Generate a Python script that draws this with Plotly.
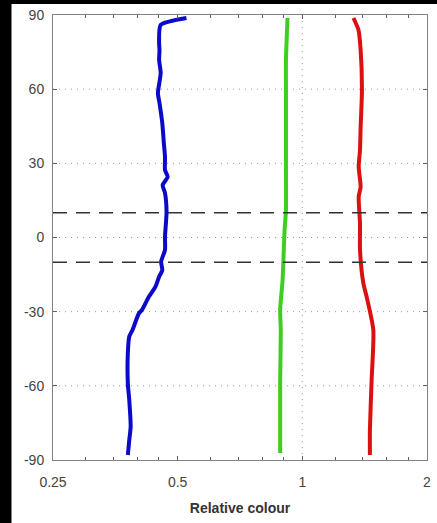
import plotly.graph_objects as go

# Latitude (deg) and relative colour values
blue_lat = [88.8, 86, 78.7, 75.8, 71.8, 66.5, 58.4, 54.4, 46.3, 38.2, 32.6, 27.3, 24.5, 21.2, 18, 10.4, 0.3, -5, -9.8, -13.2, -15.9, -19.9, -24, -29.3, -30.7, -37.4, -40.1, -46.9, -59, -65.7, -76.5, -82, -88]
blue_val = [0.525, 0.455, 0.451, 0.452, 0.451, 0.455, 0.448, 0.452, 0.459, 0.463, 0.466, 0.466, 0.473, 0.460, 0.466, 0.470, 0.466, 0.466, 0.456, 0.459, 0.451, 0.442, 0.426, 0.410, 0.403, 0.389, 0.382, 0.379, 0.379, 0.382, 0.385, 0.382, 0.379]

green_lat = [88.8, 71.8, 59.7, 30.1, 11.1, 3, -17.2, -29.3, -37.4, -58.9, -87.2]
green_val = [0.921, 0.913, 0.913, 0.913, 0.913, 0.906, 0.896, 0.884, 0.887, 0.884, 0.884]

red_lat = [88.8, 84, 75.8, 59.7, 44.8, 35.4, 28.6, 20.5, 16.5, 5.7, -5, -18.5, -24, -37.4, -57.7, -77.9, -88]
red_val = [1.329, 1.366, 1.383, 1.393, 1.383, 1.378, 1.368, 1.383, 1.368, 1.378, 1.378, 1.404, 1.430, 1.484, 1.470, 1.456, 1.456]

x_ticks = [0.25, 0.5, 1, 2]
x_tick_labels = ["0.25", "0.5", "1", "2"]
x_minor = [0.3, 0.35, 0.4, 0.45, 0.6, 0.7, 0.8, 0.9, 1.2, 1.4, 1.6, 1.8]
y_ticks = [-90, -60, -30, 0, 30, 60, 90]
y_tick_labels = ["-90", "-60", "-30", "0", "30", "60", "90"]
y_grid = [-60, -30, 0, 30, 60]
dashed_lat = [10, -10]
x_label = "Relative colour"

fig = go.Figure()
for lat, val, col in [(blue_lat, blue_val, "#0a0ac8"),
                      (green_lat, green_val, "#3fce1f"),
                      (red_lat, red_val, "#dc1010")]:
    fig.add_trace(go.Scatter(x=val, y=lat, mode="lines",
                             line=dict(color=col, width=4, shape="spline", smoothing=0.6),
                             showlegend=False))

shapes = []
for g in y_grid:
    shapes.append(dict(type="line", xref="paper", yref="y", x0=0, x1=1, y0=g, y1=g,
                       line=dict(color="#999999", width=1, dash="1px,5px"), layer="below"))
shapes.append(dict(type="line", xref="x", yref="paper", x0=1, x1=1, y0=0, y1=1,
                   line=dict(color="#999999", width=1, dash="1px,5px"), layer="below"))
for d in dashed_lat:
    shapes.append(dict(type="line", xref="paper", yref="y", x0=0, x1=1, y0=d, y1=d,
                       line=dict(color="#333333", width=1.5, dash="14px,9px"), layer="above"))
# black strips at left and top edges of the picture
shapes.append(dict(type="rect", xref="paper", yref="paper", x0=-0.145, x1=-0.111, y0=-0.2, y1=1.1,
                   fillcolor="black", line=dict(width=0)))
shapes.append(dict(type="rect", xref="paper", yref="paper", x0=-0.145, x1=1.05, y0=1.0247, y1=1.1,
                   fillcolor="black", line=dict(width=0)))

fig.update_layout(
    width=437, height=523,
    margin=dict(l=53, r=6, t=15, b=63),
    paper_bgcolor="white", plot_bgcolor="white",
    font=dict(family="Liberation Sans, Arial, sans-serif", size=14, color="#333333"),
    shapes=shapes,
    xaxis=dict(type="log", range=[-0.60206, 0.30103], tickvals=x_ticks, ticktext=x_tick_labels,
               showgrid=False, zeroline=False, showline=True, linecolor="#808080", linewidth=1,
               mirror="allticks", ticks="inside", ticklen=4, tickcolor="#606060",
               ticklabelstandoff=9,
               minor=dict(tickvals=x_minor, ticks="inside", ticklen=3, tickcolor="#606060", showgrid=False),
               title=dict(text="<b>" + x_label + "</b>", font=dict(size=14, color="#333333"), standoff=14),
               tickfont=dict(size=14, color="#444444")),
    yaxis=dict(range=[-90, 90], tickvals=y_ticks, ticktext=y_tick_labels, showgrid=False, zeroline=False,
               showline=True, linecolor="#808080", linewidth=1, mirror="allticks",
               ticks="inside", ticklen=4, tickcolor="#606060", ticklabelstandoff=5,
               tickfont=dict(size=14, color="#444444")),
)

fig.write_html("out.html")
